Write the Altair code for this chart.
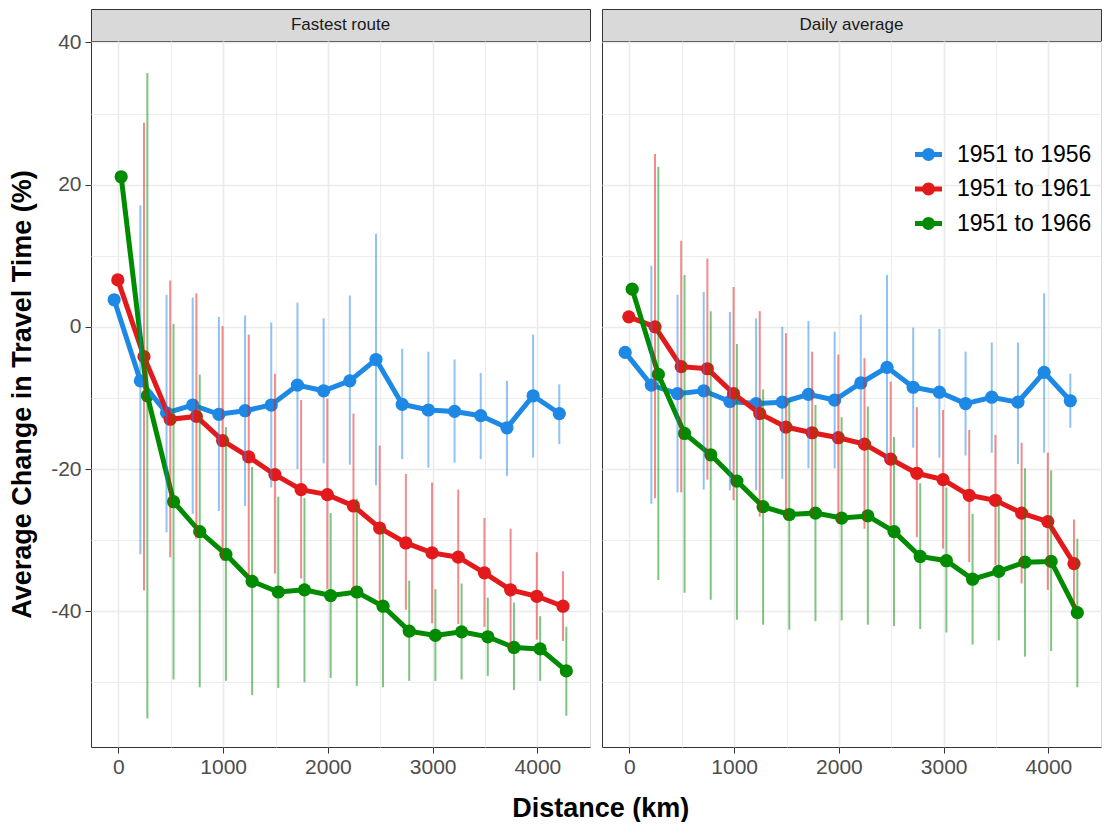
import altair as alt
import pandas as pd

# ---------------- data ----------------
BINS = [0, 250, 500, 750, 1000, 1250, 1500, 1750, 2000, 2250,
        2500, 2750, 3000, 3250, 3500, 3750, 4000, 4250]
PERIODS = ["1951 to 1956", "1951 to 1961", "1951 to 1966"]
PANELS = ["Fastest route", "Daily average"]
COLORS = ["#1E88E5", "#E31A1C", "#008B00"]
N = None

# Fastest route
FAST_56 = [3.8, -7.6, -12.1, -11.0, -12.3, -11.8, -11.0, -8.2, -9.0, -7.6,
           -4.6, -10.9, -11.7, -11.9, -12.5, -14.2, -9.7, -12.2]
FAST_56_LO = [N, -32.0, -28.9, -26.3, -25.9, -25.2, -22.6, -20.0, -19.2, -19.4,
              -22.3, -18.6, -19.8, -19.1, -18.6, -21.0, -18.4, -16.5]
FAST_56_HI = [N, 17.1, 4.5, 4.1, 1.4, 1.6, 0.6, 3.4, 1.2, 4.4,
              13.1, -3.1, -3.5, -4.6, -6.5, -7.6, -1.1, -8.1]
FAST_61 = [6.6, -4.2, -13.0, -12.6, -16.0, -18.3, -20.8, -22.9, -23.6, -25.2,
           -28.3, -30.4, -31.8, -32.4, -34.6, -37.0, -37.9, -39.3]
FAST_61_LO = [N, -37.1, -32.4, -29.8, -32.9, -35.2, -34.7, -35.4, -36.9, -37.1,
              -38.7, -39.8, -41.7, -41.8, -42.2, -45.3, -44.0, -44.2]
FAST_61_HI = [N, 28.7, 6.5, 4.7, 0.1, -1.1, -6.6, -10.3, -10.1, -12.2,
              -16.7, -20.7, -21.9, -22.9, -26.9, -28.4, -31.7, -34.4]
FAST_66 = [21.1, -9.7, -24.6, -28.8, -32.0, -35.8, -37.3, -37.0, -37.8, -37.3,
           -39.3, -42.8, -43.4, -42.9, -43.6, -45.1, -45.3, -48.4]
FAST_66_LO = [N, -55.1, -49.6, -50.7, -49.8, -51.8, -50.8, -50.0, -49.4, -50.5,
              -50.7, -49.8, -49.8, -49.6, -49.1, -51.1, -49.8, -54.7]
FAST_66_HI = [N, 35.7, 0.4, -6.7, -14.1, -19.7, -23.9, -24.1, -26.2, -24.2,
              -28.2, -35.7, -36.9, -36.1, -38.1, -38.8, -40.7, -42.2]

# Daily average
DAILY_56 = [-3.6, -8.2, -9.4, -9.0, -10.5, -10.8, -10.6, -9.5, -10.3, -7.9,
            -5.7, -8.5, -9.2, -10.8, -9.9, -10.6, -6.4, -10.4]
DAILY_56_LO = [N, -24.9, -23.3, -22.9, -23.0, -23.0, -21.4, -19.9, -19.9, -16.5,
               -18.8, -17.0, -18.4, -18.1, -17.7, -19.3, -17.7, -14.2]
DAILY_56_HI = [N, 8.6, 4.5, 4.9, 2.1, 1.2, 0.0, 0.8, -0.7, 1.7,
               7.3, -0.1, -0.3, -3.5, -2.2, -2.2, 4.7, -6.6]
DAILY_61 = [1.4, 0.0, -5.6, -5.9, -9.4, -12.2, -14.1, -14.9, -15.6, -16.5,
            -18.6, -20.6, -21.5, -23.7, -24.4, -26.2, -27.4, -33.3]
DAILY_61_LO = [N, -24.1, -23.3, -21.5, -24.4, -26.7, -27.0, -26.6, -27.7, -28.4,
               -28.0, -29.6, -31.2, -33.1, -33.5, -36.1, -37.0, -39.5]
DAILY_61_HI = [N, 24.3, 12.1, 9.6, 5.6, 2.2, -0.9, -3.5, -3.9, -4.4,
               -7.7, -11.3, -11.7, -14.5, -15.2, -16.3, -17.7, -27.1]
DAILY_66 = [5.3, -6.7, -15.0, -18.0, -21.7, -25.3, -26.4, -26.2, -26.9, -26.6,
            -28.8, -32.3, -32.9, -35.5, -34.4, -33.1, -33.0, -40.2]
DAILY_66_LO = [N, -35.6, -37.4, -38.4, -41.2, -41.9, -42.6, -41.4, -41.3, -41.9,
               -42.1, -42.5, -43.0, -44.7, -44.1, -46.4, -45.6, -50.7]
DAILY_66_HI = [N, 22.5, 7.3, 2.2, -2.4, -8.8, -10.2, -11.0, -12.7, -11.2,
               -15.5, -22.0, -22.6, -26.3, -24.7, -19.9, -20.2, -29.8]

X_TICKS = [0, 500, 1000, 1500, 2000, 2500, 3000, 3500, 4000, 4500]
Y_TICKS = [-50, -40, -30, -20, -10, 0, 10, 20, 30, 40]

# dodge (km) per series, as in the original's position_dodge
DODGE = {PERIODS[0]: -41, PERIODS[1]: -6, PERIODS[2]: 26}

SERIES = {
    PANELS[0]: [(FAST_56, FAST_56_LO, FAST_56_HI),
                (FAST_61, FAST_61_LO, FAST_61_HI),
                (FAST_66, FAST_66_LO, FAST_66_HI)],
    PANELS[1]: [(DAILY_56, DAILY_56_LO, DAILY_56_HI),
                (DAILY_61, DAILY_61_LO, DAILY_61_HI),
                (DAILY_66, DAILY_66_LO, DAILY_66_HI)],
}

rows = []
for panel in PANELS:
    for period, (mean, lo, hi) in zip(PERIODS, SERIES[panel]):
        for b, m, l, h in zip(BINS, mean, lo, hi):
            rows.append(dict(panel=panel, period=period, dist=b + DODGE[period],
                             mean=m, lo=l, hi=h))
df = pd.DataFrame(rows)

# ---------------- styling ----------------
FONT = "Liberation Sans"
W, H = 499, 706
STRIP_H = 32
x_scale = alt.Scale(domain=[-262, 4502], nice=False, zero=False)
y_scale = alt.Scale(domain=[-59.1, 40.2], nice=False, zero=False)
color_scale = alt.Scale(domain=PERIODS, range=COLORS)

GRID_W_X = {"condition": {"test": "datum.value % 1000 === 0", "value": 1.6}, "value": 0.9}
GRID_W_Y = {"condition": {"test": "datum.value % 20 === 0", "value": 1.6}, "value": 0.9}
TICK_OP_X = {"condition": {"test": "datum.value % 1000 === 0", "value": 1}, "value": 0}
TICK_OP_Y = {"condition": {"test": "datum.value % 20 === 0", "value": 1}, "value": 0}

x_axis = alt.Axis(values=X_TICKS,
                  labelExpr="datum.value % 1000 === 0 ? '' + datum.value : ''",
                  grid=True, gridColor="#EBEBEB", gridWidth=GRID_W_X,
                  tickOpacity=TICK_OP_X, tickColor="#333333", tickSize=6,
                  domain=False, labelFontSize=21, labelColor="#4D4D4D",
                  labelPadding=3, title=None)

y_axis_left = alt.Axis(values=Y_TICKS,
                       labelExpr="datum.value % 20 === 0 ? '' + datum.value : ''",
                       grid=True, gridColor="#EBEBEB", gridWidth=GRID_W_Y,
                       tickOpacity=TICK_OP_Y, tickColor="#333333", tickSize=6,
                       domain=False, labelFontSize=21, labelColor="#4D4D4D",
                       labelPadding=4, title="Average Change in Travel Time (%)",
                       titleFontSize=27, titleFontWeight="bold", titleColor="black",
                       titlePadding=14)

y_axis_right = alt.Axis(values=Y_TICKS, grid=True, gridColor="#EBEBEB",
                        gridWidth=GRID_W_Y, labels=False, ticks=False,
                        domain=False, title=None)

LEGEND_PATH = ("M-1,-0.185L1,-0.185L1,0.185L-1,0.185Z "
               "M-0.48,0A0.48,0.48 0 1 1 0.48,0A0.48,0.48 0 1 1 -0.48,0Z")

# legend placed inside the right panel (coordinates relative to that panel)
legend = alt.Legend(title=None, orient="none", legendX=313, legendY=100,
                    symbolType=LEGEND_PATH, symbolSize=729,
                    symbolStrokeWidth=0, symbolOpacity=1,
                    labelFontSize=23, labelColor="black", labelFont=FONT,
                    labelOffset=15, rowPadding=8.5)


def strip(name):
    d = pd.DataFrame({"panel": [name]})
    return alt.Chart(d).mark_text(fontSize=17, color="#1A1A1A", baseline="middle",
                                  align="center", font=FONT).encode(
        x=alt.value(W / 2), y=alt.value(STRIP_H / 2), text="panel:N"
    ).properties(width=W, height=STRIP_H,
                 view=alt.ViewBackground(fill="#D9D9D9", stroke="#333333", strokeWidth=1))


def panel(name, left):
    base = alt.Chart(df[df.panel == name])
    yax = y_axis_left if left else y_axis_right
    ytitle = "Average Change in Travel Time (%)" if left else None
    x = alt.X("dist:Q", scale=x_scale, axis=x_axis)
    y = alt.Y("mean:Q", scale=y_scale, axis=yax, title=ytitle)
    if left:
        col = alt.Color("period:N", scale=color_scale, legend=None)
    else:
        col = alt.Color("period:N", scale=color_scale, legend=legend)
    lines = base.mark_line(strokeWidth=5).encode(x=x, y=y, color=col)
    points = base.mark_circle(size=175, opacity=1).encode(x=x, y=y, color=col)
    bars = base.transform_filter("isValid(datum.lo)").mark_rule(
        strokeWidth=2, opacity=0.5).encode(
        x=x, y=alt.Y("lo:Q", scale=y_scale, axis=yax, title=ytitle),
        y2="hi:Q", color=col)
    return alt.layer(points, lines, bars).properties(
        width=W, height=H,
        view=alt.ViewBackground(stroke="#333333", strokeWidth=1, fill="white"))


left = alt.vconcat(strip(PANELS[0]), panel(PANELS[0], True),
                   spacing=0, bounds="flush")
right = alt.vconcat(strip(PANELS[1]), panel(PANELS[1], False),
                    spacing=0, bounds="flush").resolve_legend(color="independent")

chart = alt.hconcat(left, right, spacing=10).resolve_legend(
    color="independent"
).properties(
    padding=0,
    title=alt.TitleParams("Distance (km)", orient="bottom", anchor="middle",
                          fontSize=27, fontWeight="bold", color="black",
                          font=FONT, offset=18, dx=46),
).configure(font=FONT).configure_axis(labelFont=FONT, titleFont=FONT)

chart.save("out.html", embed_options={"renderer": "svg", "actions": False})
